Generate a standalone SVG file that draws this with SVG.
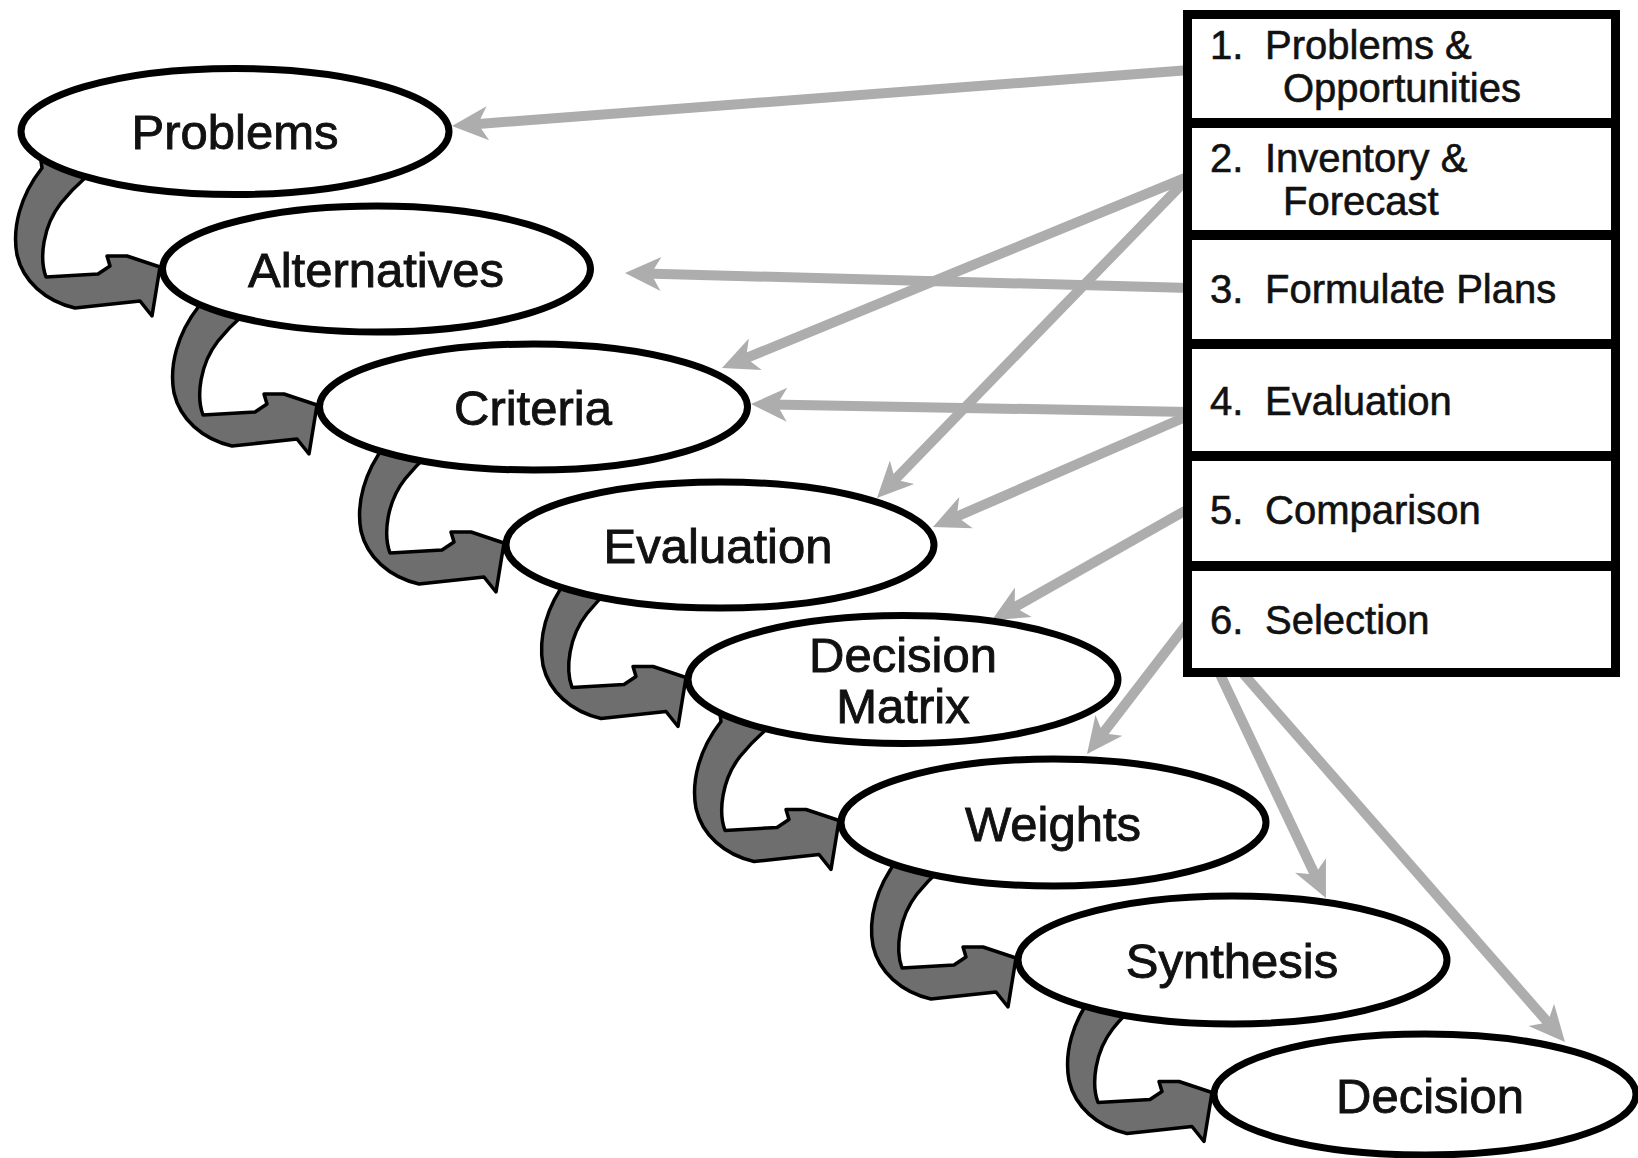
<svg xmlns="http://www.w3.org/2000/svg" width="1638" height="1158" viewBox="0 0 1638 1158">
<style>
.ell{fill:#fff;stroke:#000;stroke-width:7}
.lbl{font-family:"Liberation Sans",Arial,sans-serif;font-size:49px;fill:#111;stroke:#111;stroke-width:0.9;text-anchor:middle}
.btxt{font-family:"Liberation Sans",Arial,sans-serif;font-size:40px;fill:#111;stroke:#111;stroke-width:0.6}
.conn{stroke:#adadad;stroke-width:10;fill:none;marker-end:url(#ah)}
.curl{fill:#6e6e6e;stroke:#000;stroke-width:3.5;stroke-linejoin:round}
.sep{stroke:#000;stroke-width:10}
</style>
<defs>
<marker id="ah" markerUnits="userSpaceOnUse" markerWidth="40" markerHeight="40" refX="16" refY="17" orient="auto" overflow="visible">
<path d="M36,17 L0,0 L10,17 L0,34 Z" fill="#adadad"/>
</marker>
<path id="curl" class="curl" d="M38,140 L42,168 C20,196 12,228 17,255 C23,281 45,301 75,308 L140,301 L152,316 L160,267 L127,256 L107,256 L110,266 L98,274 L46,277 C39,258 43,226 61,203 C69,193 77,185 85,178 L88,150 Z"/>
</defs>
<rect width="1638" height="1158" fill="#fff"/>
<g id="connectors">
<line class="conn" x1="1190" y1="70" x2="471.9" y2="124.5"/>
<line class="conn" x1="1190" y1="176" x2="740.5" y2="360.4"/>
<line class="conn" x1="1190" y1="176" x2="890.9" y2="483.7"/>
<line class="conn" x1="1190" y1="288" x2="645" y2="273.5"/>
<line class="conn" x1="1190" y1="412" x2="771" y2="404.4"/>
<line class="conn" x1="1190" y1="415" x2="951.3" y2="519"/>
<line class="conn" x1="1190" y1="508" x2="1009.4" y2="610.2"/>
<line class="conn" x1="1190" y1="620" x2="1099.2" y2="738.1"/>
<line class="conn" x1="1218" y1="670" x2="1317.4" y2="879.9"/>
<line class="conn" x1="1240" y1="670" x2="1551.8" y2="1026.9"/>
</g>
<g id="flow-arrows">
<use href="#curl"/>
<use href="#curl" transform="translate(157,138)"/>
<use href="#curl" transform="translate(344,276)"/>
<use href="#curl" transform="translate(526,410.5)"/>
<use href="#curl" transform="translate(679,553.5)"/>
<use href="#curl" transform="translate(856,691)"/>
<use href="#curl" transform="translate(1052,825.5)"/>
</g>
<g id="problems"><ellipse class="ell" cx="235" cy="131.5" rx="214" ry="63"/><text class="lbl" x="235" y="149">Problems</text></g>
<g id="alternatives"><ellipse class="ell" cx="376.5" cy="269" rx="214" ry="63"/><text class="lbl" x="376" y="287">Alternatives</text></g>
<g id="criteria"><ellipse class="ell" cx="533.5" cy="407" rx="214" ry="63"/><text class="lbl" x="533" y="425">Criteria</text></g>
<g id="evaluation"><ellipse class="ell" cx="720" cy="545" rx="214" ry="63"/><text class="lbl" x="718" y="563">Evaluation</text></g>
<g id="decision-matrix"><ellipse class="ell" cx="903" cy="679.5" rx="215" ry="64"/><text class="lbl" x="903" y="672">Decision</text><text class="lbl" x="903" y="723">Matrix</text></g>
<g id="weights"><ellipse class="ell" cx="1053.5" cy="822.5" rx="212.5" ry="63.5"/><text class="lbl" x="1053" y="841">Weights</text></g>
<g id="synthesis"><ellipse class="ell" cx="1232.5" cy="960" rx="214.5" ry="64"/><text class="lbl" x="1232" y="978">Synthesis</text></g>
<g id="decision"><ellipse class="ell" cx="1425" cy="1094.5" rx="211" ry="60.5"/><text class="lbl" x="1430" y="1113">Decision</text></g>
<g id="steps-box">
<rect x="1187.5" y="14.5" width="428" height="658" fill="#fff" stroke="#000" stroke-width="9"/>
<line class="sep" x1="1187" y1="123" x2="1616" y2="123"/>
<line class="sep" x1="1187" y1="235" x2="1616" y2="235"/>
<line class="sep" x1="1187" y1="344" x2="1616" y2="344"/>
<line class="sep" x1="1187" y1="456" x2="1616" y2="456"/>
<line class="sep" x1="1187" y1="566" x2="1616" y2="566"/>
<text class="btxt" x="1210" y="59">1.</text><text class="btxt" x="1265" y="59">Problems &amp;</text><text class="btxt" x="1283" y="102">Opportunities</text>
<text class="btxt" x="1210" y="172">2.</text><text class="btxt" x="1265" y="172">Inventory &amp;</text><text class="btxt" x="1283" y="215">Forecast</text>
<text class="btxt" x="1210" y="303">3.</text><text class="btxt" x="1265" y="303">Formulate Plans</text>
<text class="btxt" x="1210" y="415">4.</text><text class="btxt" x="1265" y="415">Evaluation</text>
<text class="btxt" x="1210" y="524">5.</text><text class="btxt" x="1265" y="524">Comparison</text>
<text class="btxt" x="1210" y="634">6.</text><text class="btxt" x="1265" y="634">Selection</text>
</g>
</svg>
